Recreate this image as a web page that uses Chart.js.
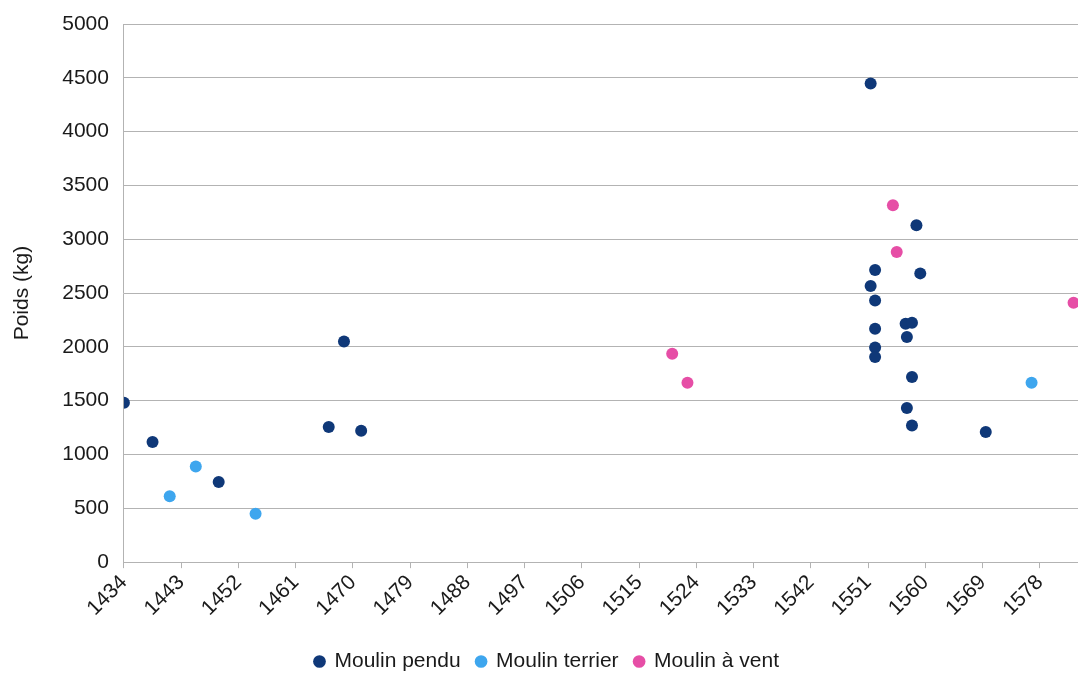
<!DOCTYPE html>
<html>
<head>
<meta charset="utf-8">
<script src="https://cdn.jsdelivr.net/npm/chart.js@4/dist/chart.umd.min.js"></script>
<style>
  html, body { margin: 0; padding: 0; background: #fff; overflow: hidden; }
  #wrap { width: 1078px; height: 673px; }
</style>
</head>
<body>
<div id="wrap"><canvas id="chart"></canvas></div>
<script>
// années / poids (kg)
const penduYears = [1434, 1438.5, 1448.9, 1466.2, 1468.6, 1471.3, 1551.4, 1558.6, 1552.1, 1559.2, 1551.4, 1552.1, 1552.1, 1556.9, 1557.9, 1557.1, 1552.1, 1552.1, 1557.9, 1557.1, 1557.9, 1569.5];
const penduPoids = [1480, 1116, 744, 1255, 2051, 1221, 4447, 3130, 2715, 2683, 2566, 2432, 2169, 2216, 2225, 2092, 1995, 1906, 1720, 1432, 1270, 1209];

const terrierYears = [1441.2, 1445.3, 1454.7, 1576.7];
const terrierPoids = [613, 889, 449, 1667];

const ventYears = [1520.2, 1522.6, 1554.9, 1555.5, 1583.3];
const ventPoids = [1937, 1667, 3316, 2882, 2411];

const seriesNames = ['Moulin pendu', 'Moulin terrier', 'Moulin à vent'];
const seriesColors = ['#0f3878', '#3ea6ee', '#e64ea6'];
const xTicks = [1434, 1443, 1452, 1461, 1470, 1479, 1488, 1497, 1506, 1515, 1524, 1533, 1542, 1551, 1560, 1569, 1578];

const toPoints = (xs, ys) => xs.map((x, i) => ({ x: x, y: ys[i] }));

const makeSet = (idx, xs, ys) => ({
    label: seriesNames[idx],
    data: toPoints(xs, ys),
    backgroundColor: seriesColors[idx],
    borderColor: seriesColors[idx],
    pointRadius: 6,
    pointHoverRadius: 6,
    borderWidth: 0
});

const font = { family: "'Liberation Sans', Arial, sans-serif", size: 21 };

// la légende est un peu décalée vers la droite dans l'original
const nudgeLegend = {
    id: 'nudgeLegend',
    afterLayout(chart) {
        if (!chart.legend) return;
        chart.legend.left += 8;
        chart.legend.right += 8;
    }
};

new Chart(document.getElementById('chart'), {
    type: 'scatter',
    data: {
        datasets: [
            makeSet(0, penduYears, penduPoids),
            makeSet(1, terrierYears, terrierPoids),
            makeSet(2, ventYears, ventPoids)
        ]
    },
    plugins: [nudgeLegend],
    options: {
        responsive: true,
        maintainAspectRatio: false,
        animation: false,
        layout: { autoPadding: false, padding: { top: 24, right: 0, bottom: -9, left: 0 } },
        plugins: {
            tooltip: { enabled: false },
            legend: {
                position: 'bottom',
                labels: {
                    usePointStyle: true,
                    boxWidth: 9,
                    boxHeight: 9,
                    padding: 16,
                    color: '#1a1a1a',
                    font: font
                }
            }
        },
        scales: {
            x: {
                type: 'linear',
                min: 1434,
                max: 1584,
                afterBuildTicks: scale => { scale.ticks = xTicks.map(v => ({ value: v })); },
                afterFit: scale => { scale.height += 12; scale.paddingRight = 0; },
                grid: { drawOnChartArea: false, drawTicks: true, tickLength: 6, color: '#b3b3b3' },
                border: { color: '#b3b3b3', width: 1 },
                ticks: {
                    color: '#1a1a1a',
                    font: font,
                    minRotation: 45,
                    maxRotation: 45,
                    padding: 2,
                    callback: v => String(v)
                }
            },
            y: {
                min: 0,
                max: 5000,
                afterFit: scale => { scale.paddingTop = 0; scale.paddingBottom = 0; },
                ticks: { stepSize: 500, color: '#1a1a1a', font: font, padding: 15, callback: v => String(v) },
                grid: { color: '#b3b3b3', drawTicks: false, lineWidth: 1 },
                border: { color: '#b3b3b3', width: 1 },
                title: {
                    display: true,
                    text: 'Poids (kg)',
                    color: '#1a1a1a',
                    font: font,
                    padding: { top: 10, bottom: 12 }
                }
            }
        }
    }
});
</script>
</body>
</html>
